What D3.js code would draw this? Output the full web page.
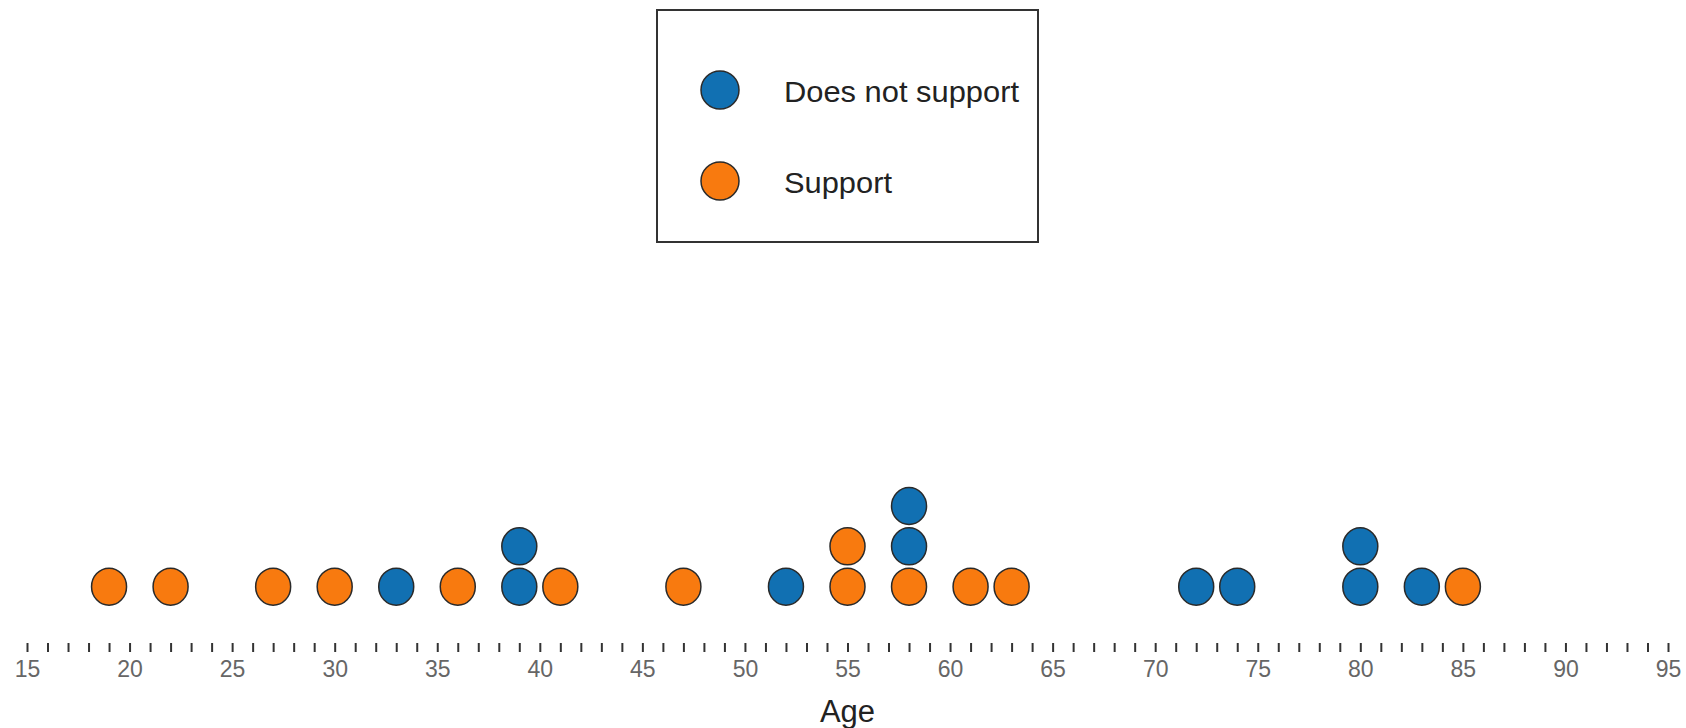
<!DOCTYPE html>
<html>
<head>
<meta charset="utf-8">
<script src="https://cdn.jsdelivr.net/npm/d3@7"></script>
<style>
  html, body { margin: 0; padding: 0; background: #fff; }
  svg { display: block; }
  text { font-family: "Liberation Sans", Arial, Helvetica, sans-serif; }
</style>
</head>
<body>
<svg id="chart" width="1686" height="728"></svg>
<script>
// ---- data ----
const seriesNames = ["Support", "Does not support"];
const supportAges = [19, 22, 27, 30, 36, 41, 47, 55, 55, 58, 61, 63, 85];
const notSupportAges = [33, 39, 39, 52, 58, 58, 72, 74, 80, 80, 83];
const legendOrder = ["Does not support", "Support"];
const tickLabels = [15, 20, 25, 30, 35, 40, 45, 50, 55, 60, 65, 70, 75, 80, 85, 90, 95];
const axisTitle = "Age";

const colors = { "Support": "#f87a0f", "Does not support": "#1170b2" };

const svg = d3.select("#chart");
const x = d3.scaleLinear().domain([15, 95]).range([27, 1668]);
const y = d3.scaleLinear().domain([0, 3]).range([627, 506]);

// stack dots: support first, then does not support
const counts = {};
const dots = [];
[["Support", supportAges], ["Does not support", notSupportAges]].forEach(([name, arr]) => {
  arr.forEach(v => {
    counts[v] = (counts[v] || 0) + 1;
    dots.push({ series: name, age: v, level: counts[v] });
  });
});

// axis
const axis = d3.axisBottom(x)
  .tickValues(d3.range(15, 96, 1))
  .tickSize(9)
  .tickFormat(d => tickLabels.includes(d) ? d : "");
const gAxis = svg.append("g").attr("transform", "translate(0,643)").call(axis);
gAxis.select(".domain").remove();
gAxis.selectAll(".tick line").attr("stroke", "#333").attr("stroke-width", 2);
gAxis.selectAll(".tick text")
  .attr("y", 0).attr("dy", 0)
  .attr("transform", "translate(0,34)")
  .attr("fill", "#666")
  .style("font-size", "23px")
  .style("font-family", "'Liberation Sans', Arial, sans-serif");

svg.append("text")
  .attr("x", x(55)).attr("y", 722)
  .attr("text-anchor", "middle")
  .attr("fill", "#222")
  .style("font-size", "31px")
  .text(axisTitle);

// dots
svg.append("g").selectAll("ellipse").data(dots).join("ellipse")
  .attr("cx", d => x(d.age))
  .attr("cy", d => y(d.level))
  .attr("rx", 17.5).attr("ry", 18.5)
  .attr("fill", d => colors[d.series])
  .attr("stroke", "#2a2a2a").attr("stroke-width", 1.5);

// legend
const lg = svg.append("g");
lg.append("rect").attr("x", 657).attr("y", 10).attr("width", 381).attr("height", 232)
  .attr("fill", "#fff").attr("stroke", "#333").attr("stroke-width", 2);
const ly = d3.scalePoint().domain(legendOrder).range([90, 181]);
const legendWidths = { "Does not support": 235, "Support": 108 };
legendOrder.forEach(name => {
  lg.append("circle").attr("cx", 720).attr("cy", ly(name)).attr("r", 19)
    .attr("fill", colors[name]).attr("stroke", "#2a2a2a").attr("stroke-width", 1.5);
  lg.append("text").attr("x", 784).attr("y", ly(name) + 12)
    .attr("fill", "#222").style("font-size", "30px")
    .attr("textLength", legendWidths[name]).attr("lengthAdjust", "spacingAndGlyphs")
    .text(name);
});
</script>
</body>
</html>
